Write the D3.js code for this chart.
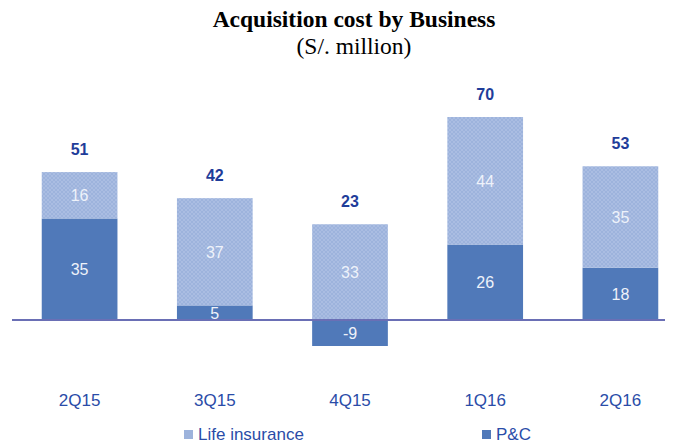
<!DOCTYPE html>
<html>
<head>
<meta charset="utf-8">
<script src="https://cdn.jsdelivr.net/npm/d3@7"></script>
<style>
  body { margin: 0; background: #fff; }
</style>
</head>
<body>
<div id="chart"></div>
<script>
var quarters = ["2Q15", "3Q15", "4Q15", "1Q16", "2Q16"];
var pcValues = [35, 5, -9, 26, 18];
var lifeValues = [16, 37, 33, 44, 35];
var totals = [51, 42, 23, 70, 53];
var seriesNames = ["Life insurance", "P&C"];

var width = 677, height = 446;
var LIFE = "#9db3dc", PC = "#5079b9", LABEL = "#2a4ca8";
var SANS = "Liberation Sans, Arial, sans-serif";

var svg = d3.select("#chart").append("svg")
    .attr("width", width).attr("height", height);

// crosshatch texture for life insurance
var pat = svg.append("defs").append("pattern")
    .attr("id", "hatch")
    .attr("patternUnits", "userSpaceOnUse")
    .attr("width", 4).attr("height", 4);
pat.append("rect").attr("width", 4).attr("height", 4).attr("fill", LIFE);
pat.append("path").attr("d", "M0,0 L4,4 M4,0 L0,4")
    .attr("stroke", "#b3c4e6").attr("stroke-width", 0.6);

svg.append("text")
    .attr("x", 354).attr("y", 27)
    .attr("text-anchor", "middle")
    .style("font-family", "Liberation Serif, serif")
    .style("font-weight", "bold").style("font-size", "23.5px")
    .text("Acquisition cost by Business");
svg.append("text")
    .attr("x", 354).attr("y", 54)
    .attr("text-anchor", "middle")
    .style("font-family", "Liberation Serif, serif")
    .style("font-size", "23.5px")
    .text("(S/. million)");

var x = d3.scaleBand().domain(quarters).range([12, 688]).paddingInner(0.44).paddingOuter(0.22);
var y = d3.scaleLinear().domain([-9, 70]).range([346, 117]);

var data = quarters.map(function (q, i) {
    return { q: q, pc: pcValues[i], life: lifeValues[i], total: totals[i] };
});

var g = svg.selectAll(".bar").data(data).enter().append("g");

// P&C segment (from zero)
g.append("rect")
    .attr("x", function (d) { return x(d.q); })
    .attr("width", x.bandwidth())
    .attr("y", function (d) { return y(Math.max(0, d.pc)); })
    .attr("height", function (d) { return Math.abs(y(d.pc) - y(0)); })
    .attr("fill", PC);

// life segment stacked on positive P&C
g.append("rect")
    .attr("x", function (d) { return x(d.q); })
    .attr("width", x.bandwidth())
    .attr("y", function (d) { return y(Math.max(0, d.pc) + d.life); })
    .attr("height", function (d) { return y(Math.max(0, d.pc)) - y(Math.max(0, d.pc) + d.life); })
    .attr("fill", "url(#hatch)");

g.append("text")
    .attr("x", function (d) { return x(d.q) + x.bandwidth() / 2; })
    .attr("y", function (d) {
        var lo = Math.max(0, d.pc);
        return (y(lo) + y(lo + d.life)) / 2 + 6;
    })
    .attr("text-anchor", "middle")
    .attr("fill", "#eef2fa")
    .style("font-family", SANS).style("font-size", "16px")
    .text(function (d) { return d.life; });

g.append("text")
    .attr("x", function (d) { return x(d.q) + x.bandwidth() / 2; })
    .attr("y", function (d) { return (y(d.pc) + y(0)) / 2 + 6; })
    .attr("text-anchor", "middle")
    .attr("fill", "#eef2fa")
    .style("font-family", SANS).style("font-size", "16px")
    .text(function (d) { return d.pc; });

g.append("text")
    .attr("x", function (d) { return x(d.q) + x.bandwidth() / 2; })
    .attr("y", function (d) { return y(Math.max(0, d.pc) + d.life) - 17; })
    .attr("text-anchor", "middle")
    .attr("fill", "#1f3d9a")
    .style("font-family", SANS)
    .style("font-weight", "bold").style("font-size", "16px")
    .text(function (d) { return d.total; });

// zero line
svg.append("line")
    .attr("x1", 12).attr("x2", 665)
    .attr("y1", y(0)).attr("y2", y(0))
    .attr("stroke", "#6a6fb5").attr("stroke-width", 2);

// category labels
svg.selectAll(".cat").data(quarters).enter().append("text")
    .attr("x", function (d) { return x(d) + x.bandwidth() / 2; })
    .attr("y", 406)
    .attr("text-anchor", "middle")
    .attr("fill", LABEL)
    .style("font-family", SANS).style("font-size", "17px")
    .text(function (d) { return d; });

// legend
var legX = [184, 482];
var leg = svg.selectAll(".leg").data(seriesNames).enter().append("g")
    .attr("transform", function (d, i) { return "translate(" + legX[i] + ",430)"; });
leg.append("rect").attr("width", 9).attr("height", 9)
    .attr("fill", function (d, i) { return i === 0 ? LIFE : PC; });
leg.append("text").attr("x", 14).attr("y", 10)
    .attr("fill", LABEL)
    .style("font-family", SANS).style("font-size", "17px")
    .text(function (d) { return d; });
</script>
</body>
</html>
